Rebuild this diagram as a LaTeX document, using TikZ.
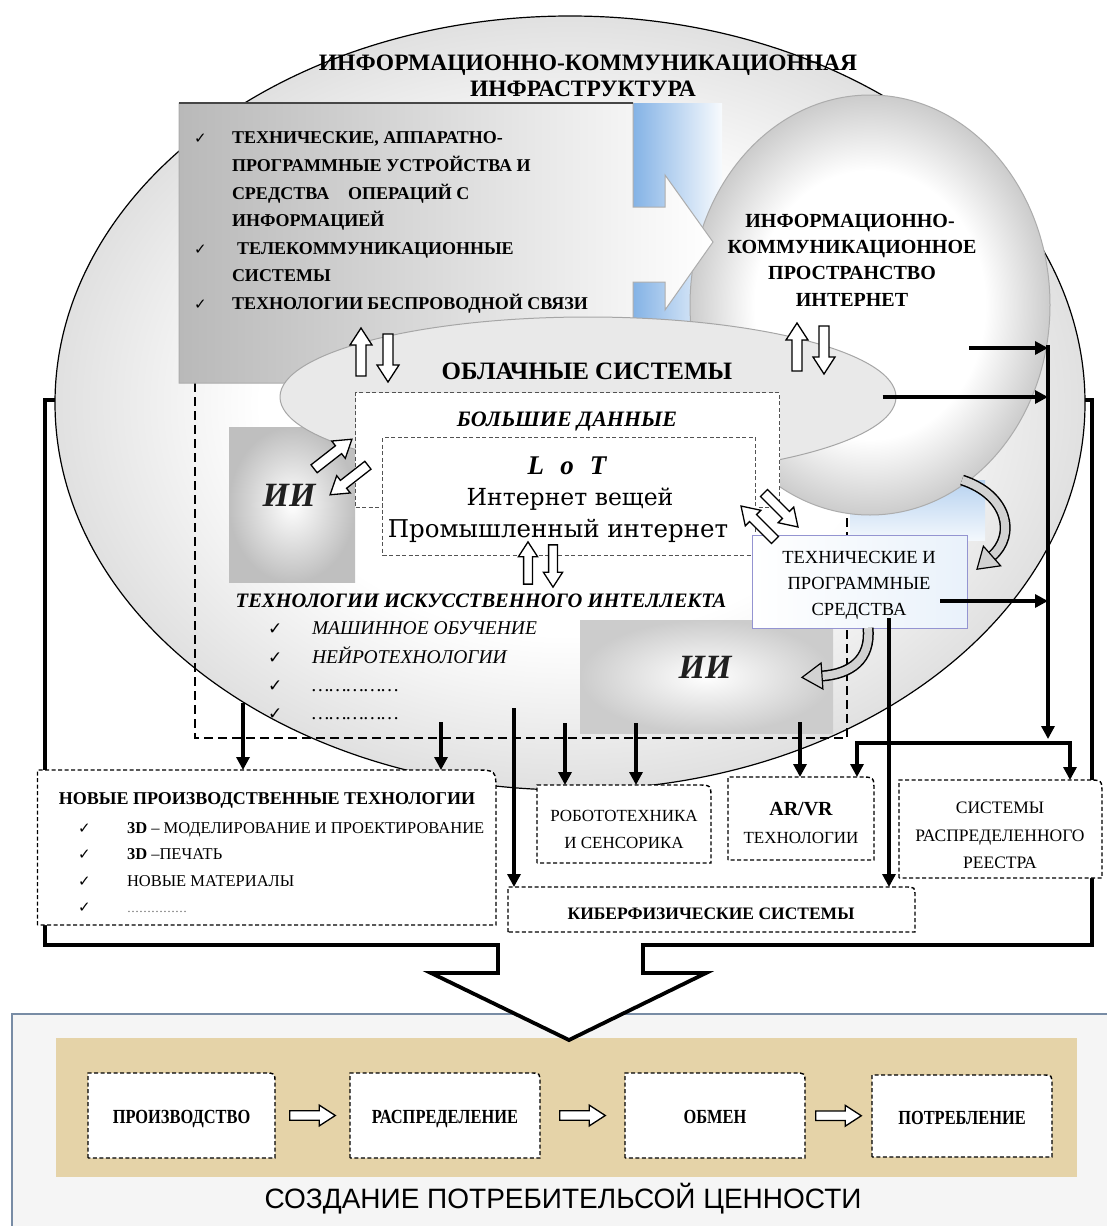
\documentclass[tikz,border=0pt]{standalone}
\usepackage{fontspec}
\setmainfont{Liberation Serif}
\newfontfamily\symf{DejaVu Sans}
\newfontfamily\dvs{DejaVu Serif}
\newfontfamily\lsans{Liberation Sans}
\usetikzlibrary{arrows.meta,calc,shapes.geometric}
\definecolor{glow}{RGB}{110,165,225}
\definecolor{tanband}{RGB}{229,211,168}
\definecolor{panelline}{RGB}{120,140,165}
\pgfdeclareradialshading{rimA}{\pgfpoint{0bp}{0bp}}{color(0bp)=(white); color(15bp)=(white); color(25bp)=(gray!24); color(50bp)=(gray!24)}
\pgfdeclareradialshading{rimB}{\pgfpoint{0bp}{0bp}}{color(0bp)=(white); color(16bp)=(white); color(25bp)=(gray!40); color(50bp)=(gray!40)}
\newcommand\fs[2]{\fontsize{#1}{#2}\selectfont}
\newcommand\chk[1][13pt]{{\symf\fontsize{#1}{#1}\selectfont ✓}}
\newcommand\rbox[6][14]{%
  \draw[dboxline] (#3,#6) -- (#3,#4) -- ({#5-#1},#4) .. controls (#5,#4) .. (#5,{#4+#1}) -- (#5,#6) -- cycle;
  \node[inner sep=0pt, outer sep=0pt, minimum width={#5-#3}, minimum height={#6-#4}, anchor=north west] (#2) at (#3,#4) {};}
\begin{document}
\begin{tikzpicture}[x=1pt,y=-1pt,
  frame/.style={line width=4pt, line join=miter},
  conn/.style={line width=3.2pt, -{Triangle[length=13pt,width=13pt]}},
  conn2/.style={line width=3.2pt, line join=miter, {Triangle[length=13pt,width=13pt]}-{Triangle[length=13pt,width=13pt]}},
  dboxline/.style={line width=1.4pt, dash pattern=on 4pt off 2.5pt, fill=white},
  aidash/.style={line width=2.8pt, dash pattern=on 9pt off 5pt},
  thindash/.style={draw=gray!65!black, line width=1pt, dash pattern=on 4pt off 2.5pt, fill=white},
  txt/.style={inner sep=0pt, outer sep=0pt},
  hollow/.pic={\draw[fill=white, line width=1.3pt, line join=miter] (-24,-5) -- (7,-5) -- (7,-11) -- (24,0) -- (7,11) -- (7,5) -- (-24,5) -- cycle;},
]
\useasboundingbox (0,0) rectangle (1107,1226);
\fill[white] (0,0) rectangle (1107,1226);

% outer frame (behind the big ellipse)
\draw[frame] (498,945) -- (45,945) -- (45,400) -- (1092,400) -- (1092,945) -- (643,945);

% big ellipse
\node[ellipse, draw, line width=1.2pt, shading=rimA, minimum width=1030, minimum height=774, inner sep=0pt] (ict) at (570,403) {};

% blue glows
\shade[left color=glow!85, right color=glow!5] (633,103) rectangle (722,335);
\shade[top color=glow!50, bottom color=glow!8] (850,480) rectangle (985,540);

% AI dashed frame
\draw[aidash] (195,383) -- (195,738) -- (847,738) -- (847,515);

% AI shaded squares
\shade[inner color=white, outer color=gray!50] (229,427) rectangle (355,582);
\shade[inner color=white, outer color=gray!40] (580,620) rectangle (833,733);

% sphere: information space
\node[ellipse, draw=gray!65, line width=1pt, shading=rimB, minimum width=360, minimum height=420, inner sep=0pt] (inet) at (870,305) {};

% gray box arrow
\shade[left color=gray!55, middle color=white!96!gray, right color=white, draw=gray!65, line width=1pt] (179,103) -- (633,103) -- (633,207) -- (665,207) -- (665,175) -- (713,242) -- (665,310) -- (665,282) -- (633,282) -- (633,383) -- (179,383) -- cycle;
\draw[gray!55!black, line width=1.6pt] (179,103) -- (633,103);
\node[txt, minimum width=454, minimum height=280, anchor=north west] (tech) at (179,103) {};

% cloud
\node[ellipse, draw=gray!70, line width=1pt, fill=gray!17, minimum width=616, minimum height=160, inner sep=0pt] (cloud) at (588,397) {};

% big data, LoT
\node[thindash, minimum width=424, minimum height=115, anchor=north west, inner sep=0pt] (bigdata) at (355,392) {};
\node[thindash, minimum width=373, minimum height=118, anchor=north west, inner sep=0pt] (lot) at (382,437) {};

% technical & software means
\node[draw=gray!60!blue!60, line width=1pt, left color=white, right color=glow!15, minimum width=215, minimum height=93, anchor=north west, inner sep=0pt] (tps) at (752,535) {};

% curved gray arrows
\draw[line width=11pt] (962,480) .. controls (1008,495) and (1016,535) .. (992,556);
\draw[line width=8pt, gray!35] (962,480) .. controls (1008,495) and (1016,535) .. (992,556);
\draw[fill=gray!35, line width=1.2pt, line join=miter] (1000.6,565.8) -- (977,569.2) -- (983.4,546.2) -- cycle;
\draw[line width=11pt] (868,628) .. controls (871,660) and (850,674) .. (822,676);
\draw[line width=8pt, gray!35] (868,628) .. controls (871,660) and (850,674) .. (822,676);
\draw[fill=gray!35, line width=1.2pt, line join=miter] (822.9,689) -- (802,677.4) -- (821.1,663) -- cycle;

% hollow double arrows
\pic[rotate=90] at (361,352) {hollow};
\pic[rotate=-90] at (388,358) {hollow};
\pic[rotate=90] at (797,347) {hollow};
\pic[rotate=-90] at (824,350) {hollow};
\pic[rotate=90, scale=0.88] at (528,563) {hollow};
\pic[rotate=-90, scale=0.88] at (553,566) {hollow};
\pic[rotate=38] at (333,454) {hollow};
\pic[rotate=218] at (349,480) {hollow};
\pic[rotate=135] at (758,523) {hollow};
\pic[rotate=-45] at (781,510) {hollow};

% lower boxes
\rbox[22]{npt}{37.5}{770}{496}{925}
\rbox{robo}{537}{785}{711}{863}
\rbox{arvr}{728}{777}{874}{860}
\rbox{reg}{899}{780}{1102}{878}
\rbox[10]{cyber}{508}{887}{915}{932}

% connectors
\coordinate (a1) at (243,703);
\coordinate (a2) at (441,722);
\coordinate (a3) at (514,708);
\coordinate (a4) at (565,723);
\coordinate (a5) at (636,723);
\coordinate (a6) at (800,722);
\coordinate (t1) at (889,618);
\coordinate (t2) at (940,601);
\coordinate (s1) at (969,348);
\coordinate (busT) at (1048,345);
\coordinate (busB) at (1048,739);
\coordinate (barL) at (857,743);
\coordinate (barR) at (1070,743);
\draw[conn] (a1) -- (a1 |- npt.north);
\draw[conn] (a2) -- (a2 |- npt.north);
\draw[conn] (a3) -- (a3 |- cyber.north);
\draw[conn] (a4) -- (a4 |- robo.north);
\draw[conn] (a5) -- (a5 |- robo.north);
\draw[conn] (a6) -- (a6 |- arvr.north);
\draw[conn] (t1) -- (t1 |- cyber.north);
\draw[conn] (s1) -- (s1 -| busT);
\draw[conn] ([xshift=-14pt]cloud.east) -- (cloud.east -| busT);
\draw[conn] (t2) -- (t2 -| busT);
\draw[conn] (busT) -- (busB);
\draw[conn2] (barL |- arvr.north) -- (barL) -- (barR) -- (barR |- reg.north);

% bottom panel
\node[draw=panelline, line width=1.5pt, fill=gray!8, minimum width=1100, minimum height=215, anchor=north west, inner sep=0pt] (panel) at (11,1013) {};
\fill[tanband] (56,1038) rectangle (1077,1177);
\rbox[10]{prod}{88}{1073}{275}{1158}
\rbox[10]{dist}{350}{1073}{540}{1158}
\rbox[10]{exch}{625}{1073}{805}{1158}
\rbox[10]{cons}{872}{1075}{1052}{1157}
\pic[scale=0.95] at ($(prod.east)!0.5!(dist.west)$) {hollow};
\pic[scale=0.95] at ($(dist.east)!0.5!(exch.west)$) {hollow};
\pic[scale=0.95] at ($(exch.east)!0.5!(cons.west)$) {hollow};

% big down arrow
\draw[line width=3.8pt, fill=white, line join=miter] (470,945) -- (498,945) -- (498,973) -- (431,973) -- (569,1040) -- (706,973) -- (643,973) -- (643,945) -- (670,945);

% ---------- texts ----------
\node[txt, anchor=base, font=\bfseries\fs{23.5pt}{28pt}] (title1) at (588,70) {ИНФОРМАЦИОННО-КОММУНИКАЦИОННАЯ};
\node[txt, anchor=base, font=\bfseries\fs{23.5pt}{28pt}] (title2) at (583,96) {ИНФРАСТРУКТУРА};

\begin{scope}[every node/.style={txt, anchor=base west, font=\bfseries\fs{18pt}{20pt}}]
\node (k1) at (194,143) {\chk[15pt]};
\node (g1) at (232,143) {ТЕХНИЧЕСКИЕ, АППАРАТНО-};
\node (g2) at (232,171) {ПРОГРАММНЫЕ УСТРОЙСТВА И};
\node (g3) at (232,199) {СРЕДСТВА\hspace{0.8em} ОПЕРАЦИЙ С};
\node (g4) at (232,226) {ИНФОРМАЦИЕЙ};
\node (k2) at (194,254) {\chk[15pt]};
\node (g5) at (237,254) {ТЕЛЕКОММУНИКАЦИОННЫЕ};
\node (g6) at (232,281) {СИСТЕМЫ};
\node (k3) at (194,309) {\chk[15pt]};
\node (g7) at (232,309) {ТЕХНОЛОГИИ БЕСПРОВОДНОЙ СВЯЗИ};
\end{scope}

\begin{scope}[every node/.style={txt, anchor=base, font=\bfseries\fs{20pt}{24pt}}]
\node (i1) at (850,227) {ИНФОРМАЦИОННО-};
\node (i2) at (852,253) {КОММУНИКАЦИОННОЕ};
\node (i3) at (852,279) {ПРОСТРАНСТВО};
\node (i4) at (852,306) {ИНТЕРНЕТ};
\end{scope}

\node[txt, anchor=base, font=\bfseries\fs{25pt}{30pt}] (cloudt) at (587,379) {ОБЛАЧНЫЕ СИСТЕМЫ};
\node[txt, anchor=base, font=\bfseries\itshape\fs{22pt}{26pt}] (bdt) at (567,426) {БОЛЬШИЕ ДАННЫЕ};
\node[txt, anchor=base, font=\bfseries\itshape\fs{27pt}{30pt}] (lott) at (567,474) {L\hspace{0.6em}o\hspace{0.6em}T};
\node[txt, anchor=base, font=\dvs\fs{23.5pt}{28pt}] (lot1) at (570,505) {Интернет вещей};
\node[txt, anchor=base, font=\dvs\fs{24.5pt}{28pt}] (lot2) at (558,537) {Промышленный интернет};

\node[txt, anchor=base, font=\bfseries\itshape\fs{34pt}{36pt}, text=gray!25!black] (ii1) at (289,506) {ИИ};
\node[txt, anchor=base, font=\bfseries\itshape\fs{34pt}{36pt}, text=gray!25!black] (ii2) at (705,678) {ИИ};

\node[txt, anchor=base, font=\bfseries\itshape\fs{20.5pt}{24pt}] (tii) at (481,607) {ТЕХНОЛОГИИ ИСКУССТВЕННОГО ИНТЕЛЛЕКТА};
\begin{scope}[every node/.style={txt, anchor=base west, font=\itshape\fs{19.5pt}{22pt}}]
\node (m1) at (268,634) {\chk[17pt]};
\node (n1) at (312,634) {МАШИННОЕ ОБУЧЕНИЕ};
\node (m2) at (268,663) {\chk[17pt]};
\node (n2) at (312,663) {НЕЙРОТЕХНОЛОГИИ};
\node (m3) at (268,691) {\chk[17pt]};
\node (n3) at (312,691) {……………};
\node (m4) at (268,719) {\chk[17pt]};
\node (n4) at (312,719) {……………};
\end{scope}

\begin{scope}[every node/.style={txt, anchor=base, font=\fs{18.5pt}{22pt}}]
\node (p1) at (859,563) {ТЕХНИЧЕСКИЕ И};
\node (p2) at (859,589) {ПРОГРАММНЫЕ};
\node (p3) at (859,615) {СРЕДСТВА};
\end{scope}

\node[txt, anchor=base, font=\bfseries\fs{18pt}{22pt}] (nptt) at (267,804) {НОВЫЕ ПРОИЗВОДСТВЕННЫЕ ТЕХНОЛОГИИ};
\begin{scope}[every node/.style={txt, anchor=base west, font=\fs{16.5pt}{20pt}}]
\node (q1) at (78,833) {\chk[15pt]};
\node (r1) at (127,833) {\textbf{3D} – МОДЕЛИРОВАНИЕ И ПРОЕКТИРОВАНИЕ};
\node (q2) at (78,859) {\chk[15pt]};
\node (r2) at (127,859) {\textbf{3D} –ПЕЧАТЬ};
\node (q3) at (78,886) {\chk[15pt]};
\node (r3) at (127,886) {НОВЫЕ МАТЕРИАЛЫ};
\node (q4) at (78,912) {\chk[15pt]};
\node[font=\fs{12pt}{14pt}, text=gray!70!black] (r4) at (127,912) {……………};
\end{scope}

\node[txt, anchor=base, font=\fs{17pt}{20pt}] (rb1) at (624,821) {РОБОТОТЕХНИКА};
\node[txt, anchor=base, font=\fs{17pt}{20pt}] (rb2) at (624,848) {И СЕНСОРИКА};
\node[txt, anchor=base, font=\bfseries\fs{20pt}{24pt}] (av1) at (801,815) {AR/VR};
\node[txt, anchor=base, font=\fs{17pt}{20pt}] (av2) at (801,843) {ТЕХНОЛОГИИ};
\node[txt, anchor=base, font=\fs{17.5pt}{20pt}] (rg1) at (1000,813) {СИСТЕМЫ};
\node[txt, anchor=base, font=\fs{17.5pt}{20pt}] (rg2) at (1000,841) {РАСПРЕДЕЛЕННОГО};
\node[txt, anchor=base, font=\fs{17.5pt}{20pt}] (rg3) at (1000,868) {РЕЕСТРА};
\node[txt, anchor=base, font=\bfseries\fs{17.5pt}{20pt}] (cyt) at (711,919) {КИБЕРФИЗИЧЕСКИЕ СИСТЕМЫ};

\begin{scope}[every node/.style={txt, anchor=base, font=\bfseries\fs{20pt}{24pt}}]
\node (prodt) at ($(prod.center)+(0,8)$) {\scalebox{0.82}[1]{ПРОИЗВОДСТВО}};
\node (distt) at ($(dist.center)+(0,8)$) {\scalebox{0.82}[1]{РАСПРЕДЕЛЕНИЕ}};
\node (excht) at ($(exch.center)+(0,8)$) {\scalebox{0.82}[1]{ОБМЕН}};
\node (const) at ($(cons.center)+(0,8)$) {\scalebox{0.82}[1]{ПОТРЕБЛЕНИЕ}};
\end{scope}
\node[txt, anchor=base, font=\lsans\fs{28pt}{30pt}] (valt) at (563,1208) {СОЗДАНИЕ ПОТРЕБИТЕЛЬСОЙ ЦЕННОСТИ};
\end{tikzpicture}
\end{document}
